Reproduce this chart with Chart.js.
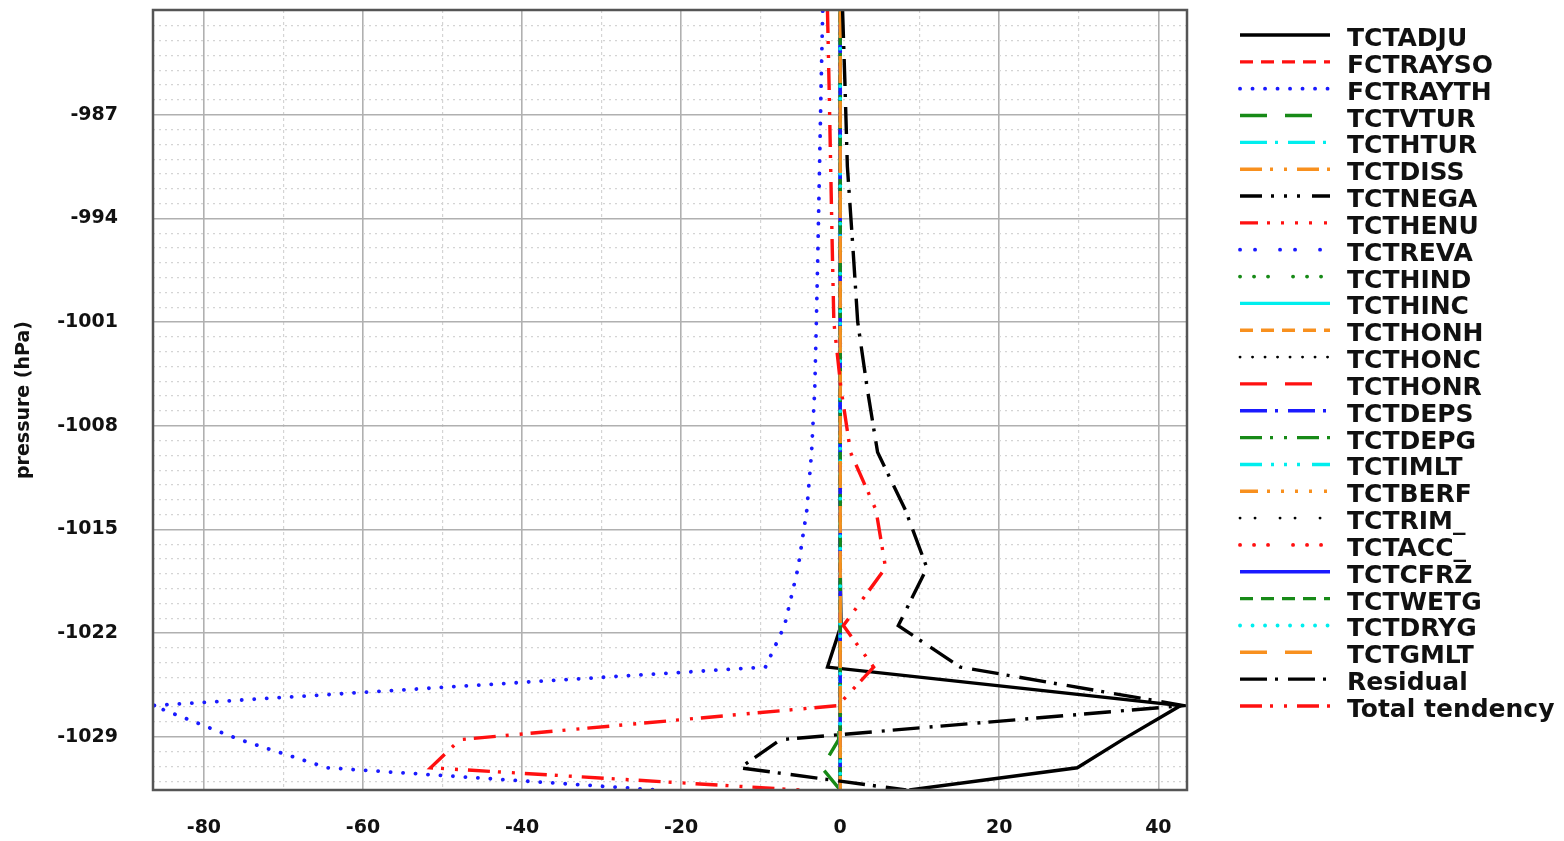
<!DOCTYPE html>
<html>
<head>
<meta charset="utf-8">
<title>Temperature tendency budget</title>
<script src="https://cdn.jsdelivr.net/npm/chart.js@4.4.1/dist/chart.umd.min.js"></script>
<style>
  html, body { margin: 0; padding: 0; background: #fff; }
  #wrap { width: 1564px; height: 841px; }
</style>
</head>
<body>
<div id="wrap"><canvas id="budget" width="1564" height="841"></canvas></div>
<script>
// Model levels, plotted as negative pressure (hPa), top to bottom
const levels = [-980.0, -985.0, -990.5, -996.0, -1001.0, -1005.5, -1009.8, -1013.7, -1017.6, -1021.5, -1024.3, -1026.9, -1029.2, -1031.1, -1032.6];

// Tendency terms at each level
const tctadju  = [0, 0, 0, 0, 0, 0, 0, 0, 0, 0.1, -1.6, 42.8, 35.5, 29.8, 8.7];
const fctrayth = [-2.2, -2.4, -2.6, -2.8, -3.0, -3.2, -3.6, -4.2, -5.3, -7.0, -9.4, -86.4, -75.5, -64.5, -22.9];
const tctvtur  = [0, 0, 0, 0, 0, 0, 0, 0, 0, 0, 0, 0, -0.2, -2.3, 0];
const residual = [0.3, 0.6, 0.9, 1.6, 2.2, 3.4, 4.7, 8.2, 10.9, 7.3, 15.1, 43.2, -7.5, -12.6, 8.3];
const totalTend = [-1.6, -1.4, -1.2, -1.0, -0.8, 0.1, 1.3, 4.5, 5.7, 0.4, 4.2, -0.3, -47.8, -51.5, -5.0];
const flat     = [0, 0, 0, 0, 0, 0, 0, 0, 0, 0, 0, 0, 0, 0, 0];

const termNames = ['TCTADJU', 'FCTRAYSO', 'FCTRAYTH', 'TCTVTUR', 'TCTHTUR', 'TCTDISS', 'TCTNEGA',
  'TCTHENU', 'TCTREVA', 'TCTHIND', 'TCTHINC', 'TCTHONH', 'TCTHONC', 'TCTHONR', 'TCTDEPS',
  'TCTDEPG', 'TCTIMLT', 'TCTBERF', 'TCTRIM_', 'TCTACC_', 'TCTCFRZ', 'TCTWETG', 'TCTDRYG',
  'TCTGMLT', 'Residual', 'Total tendency'];
const termValues = [tctadju, flat, fctrayth, tctvtur, flat, flat, flat,
  flat, flat, flat, flat, flat, flat, flat, flat,
  flat, flat, flat, flat, flat, flat, flat, flat,
  flat, residual, totalTend];

// axis ticks
const xMajor = [-80, -60, -40, -20, 0, 20, 40];
const yMajor = [-987, -994, -1001, -1008, -1015, -1022, -1029];

// line styles
const BLACK = '#000000', RED = '#ff1010', BLUE = '#1a1aff', GREEN = '#178a17', CYAN = '#00eeee', ORANGE = '#f8901e';
const SOLID = [], DASH = [13, 8], DOT = [0.1, 12.4], LONG = [27, 18];
const DASHDOT = [27, 8, 3, 10], DASH2DOT = [22, 8, 3, 11, 3, 10];
const DASH3DOT = [22, 9, 3, 10, 3, 10, 3, 12];
const DASH5DOT = [18, 9, 3, 11, 3, 11, 3, 11, 3, 12, 3, 12];
const DOT2 = [0.1, 14.9, 0.1, 24.9], DOT3 = [0.1, 13.9, 0.1, 13.9, 0.1, 24.9];

const styles = [
  [BLACK, SOLID], [RED, DASH], [BLUE, DOT], [GREEN, LONG], [CYAN, DASHDOT], [ORANGE, DASH2DOT],
  [BLACK, DASH3DOT], [RED, DASH5DOT], [BLUE, DOT2], [GREEN, DOT3], [CYAN, SOLID], [ORANGE, DASH],
  [BLACK, DOT], [RED, LONG], [BLUE, DASHDOT], [GREEN, DASH2DOT], [CYAN, DASH3DOT], [ORANGE, DASH5DOT],
  [BLACK, DOT2], [RED, DOT3], [BLUE, SOLID], [GREEN, DASH], [CYAN, DOT], [ORANGE, LONG],
  [BLACK, DASHDOT], [RED, DASH2DOT]
];

const isDotted = (dash) => dash.length > 0 && dash[0] < 1;

const datasets = termNames.map((name, i) => {
  const [color, dash] = styles[i];
  const dotted = isDotted(dash);
  return {
    label: name,
    data: levels.map((p, k) => ({ x: termValues[i][k], y: p })),
    borderColor: color,
    borderWidth: dotted ? (color === BLACK ? 2.8 : 3.8) : 3.4,
    borderDash: dash,
    borderCapStyle: dotted ? 'round' : 'butt',
    borderJoinStyle: 'miter',
    pointRadius: 0,
    tension: 0,
    fill: false,
    order: termNames.length - i
  };
});

// frame round the plot area and the legend on the right
const framePlugin = {
  id: 'frameAndLegend',
  afterDraw(chart) {
    const { ctx, chartArea } = chart;
    ctx.save();
    ctx.strokeStyle = '#555';
    ctx.lineWidth = 2.5;
    ctx.setLineDash([]);
    ctx.strokeRect(chartArea.left, chartArea.top, chartArea.right - chartArea.left, chartArea.bottom - chartArea.top);

    const x0 = chartArea.right + 53;
    chart.data.datasets.forEach((ds, i) => {
      const y = 35 + i * 26.84;
      ctx.strokeStyle = ds.borderColor;
      ctx.lineWidth = ds.borderWidth;
      ctx.lineCap = ds.borderCapStyle;
      ctx.setLineDash(ds.borderDash);
      ctx.beginPath();
      ctx.moveTo(x0, y);
      ctx.lineTo(x0 + 90, y);
      ctx.stroke();
      ctx.setLineDash([]);
      ctx.fillStyle = '#111';
      ctx.font = 'bold 25px "DejaVu Sans"';
      ctx.textBaseline = 'alphabetic';
      ctx.fillText(ds.label, x0 + 107, y + 11);
    });
    ctx.restore();
  }
};

const tickFont = { family: 'DejaVu Sans', size: 19, weight: 'bold' };

new Chart(document.getElementById('budget').getContext('2d'), {
  type: 'line',
  data: { datasets: datasets },
  options: {
    responsive: false,
    animation: false,
    devicePixelRatio: 1,
    layout: { padding: { top: 10, right: 377, left: 0, bottom: 0 } },
    plugins: {
      legend: { display: false },
      tooltip: { enabled: false }
    },
    scales: {
      x: {
        type: 'linear',
        min: -86.4,
        max: 43.6,
        afterBuildTicks: (axis) => {
          const t = [];
          for (let v = -80; v <= 40; v += 10) t.push({ value: v });
          axis.ticks = t;
        },
        afterFit: (axis) => {
          axis.height = 51;
          axis.paddingLeft = 0;
          axis.paddingRight = 0;
        },
        ticks: {
          autoSkip: false,
          maxRotation: 0,
          padding: 27,
          color: '#111',
          font: tickFont,
          callback: (v) => xMajor.includes(v) ? String(v) : ''
        },
        grid: {
          drawTicks: false,
          color: (c) => xMajor.includes(c.tick && c.tick.value) ? '#b0b0b0' : '#d4d4d4',
          lineWidth: (c) => xMajor.includes(c.tick && c.tick.value) ? 1.6 : 1.2
        },
        border: {
          display: false,
          dash: (c) => (c.tick && !xMajor.includes(c.tick.value)) ? [3, 3] : []
        }
      },
      y: {
        type: 'linear',
        min: -1032.6,
        max: -979.93,
        afterBuildTicks: (axis) => {
          const t = [];
          for (let v = -1032; v <= -981; v += 1) t.push({ value: v });
          axis.ticks = t;
        },
        afterFit: (axis) => {
          axis.width = 153;
          axis.paddingTop = 0;
          axis.paddingBottom = 0;
        },
        ticks: {
          autoSkip: false,
          padding: 35,
          color: '#111',
          font: tickFont,
          callback: (v) => yMajor.includes(v) ? String(v) : ''
        },
        grid: {
          drawTicks: false,
          color: (c) => yMajor.includes(c.tick && c.tick.value) ? '#b0b0b0' : '#d4d4d4',
          lineWidth: (c) => yMajor.includes(c.tick && c.tick.value) ? 1.6 : 1.2
        },
        border: {
          display: false,
          dash: (c) => (c.tick && !yMajor.includes(c.tick.value)) ? [2, 4] : []
        },
        title: {
          display: true,
          text: 'pressure (hPa)',
          color: '#111',
          font: { family: 'DejaVu Sans', size: 19, weight: 'bold' },
          padding: { top: 13, bottom: 0 }
        }
      }
    }
  },
  plugins: [framePlugin]
});
</script>
</body>
</html>
